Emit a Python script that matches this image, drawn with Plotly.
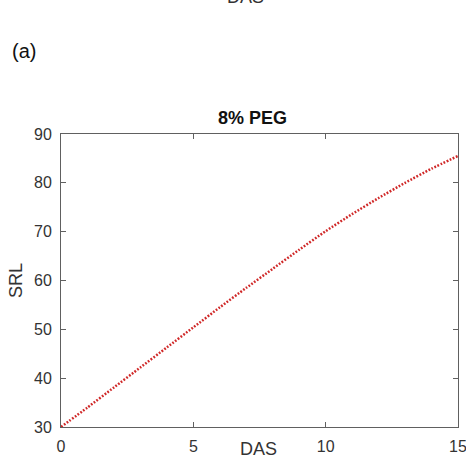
import plotly.graph_objects as go

# Data
das = [0, 1, 2, 3, 4, 5, 6, 7, 8, 9, 10, 11, 12, 13, 14, 15]
srl = [30.0, 34.0, 38.1, 42.2, 46.3, 50.4, 54.5, 58.5, 62.4, 66.3, 70.1, 73.6, 76.9, 80.0, 82.9, 85.5]
x_ticks = [0, 5, 10, 15]
y_ticks = [30, 40, 50, 60, 70, 80, 90]

W, H = 466, 461
L, R, T, B = 61, 8, 134, 34
ph = H - T - B
pw = W - L - R

def px_x(p):
    return (p - L) / pw

def px_y(p):
    return (H - B - p) / ph

FONT = "Liberation Sans, Arial, Helvetica, sans-serif"
AX = "#606060"

fig = go.Figure()
fig.add_trace(go.Scatter(
    x=das, y=srl, mode="lines",
    line=dict(color="#d02828", width=2.5, dash="1.8px,1.6px", shape="spline", smoothing=0.6),
    hoverinfo="skip", showlegend=False,
))

fig.update_layout(
    width=W, height=H,
    margin=dict(l=L, r=R, t=T, b=B, autoexpand=False),
    paper_bgcolor="white", plot_bgcolor="white",
    showlegend=False,
    font=dict(family=FONT, color="#333333"),
    xaxis=dict(
        range=[0, 15], tickvals=x_ticks, ticks="inside", ticklen=5, tickcolor=AX,
        showline=True, linecolor=AX, linewidth=1, mirror="ticks",
        showgrid=False, zeroline=False, ticklabeloverflow="allow", ticklabelstandoff=5,
        tickfont=dict(size=16, color="#333333", family=FONT),
    ),
    yaxis=dict(
        range=[30, 90], tickvals=y_ticks, ticks="inside", ticklen=5, tickcolor=AX,
        showline=True, linecolor=AX, linewidth=1, mirror="ticks",
        showgrid=False, zeroline=False, ticklabeloverflow="allow", ticklabelstandoff=5,
        tickfont=dict(size=16, color="#333333", family=FONT),
        title=dict(text="SRL", font=dict(size=18, color="#333333", family=FONT), standoff=6),
    ),
)

def note(text, x, y, size, color, **kw):
    fig.add_annotation(text=text, xref="paper", yref="paper",
                       x=px_x(x), y=px_y(y), xanchor="center", yanchor="middle",
                       showarrow=False, font=dict(size=size, color=color, family=FONT), **kw)

note("<b>8% PEG</b>", 252, 118, 18, "#111111")
note("DAS", 258, 449, 18, "#333333")
note("(a)", 24, 51, 20, "#111111")
note("DAS", 245, -3, 18, "#333333")

fig.write_html("out.html", config={"displayModeBar": False},
               post_script="document.body.style.margin='0';document.body.style.overflow='hidden';")
